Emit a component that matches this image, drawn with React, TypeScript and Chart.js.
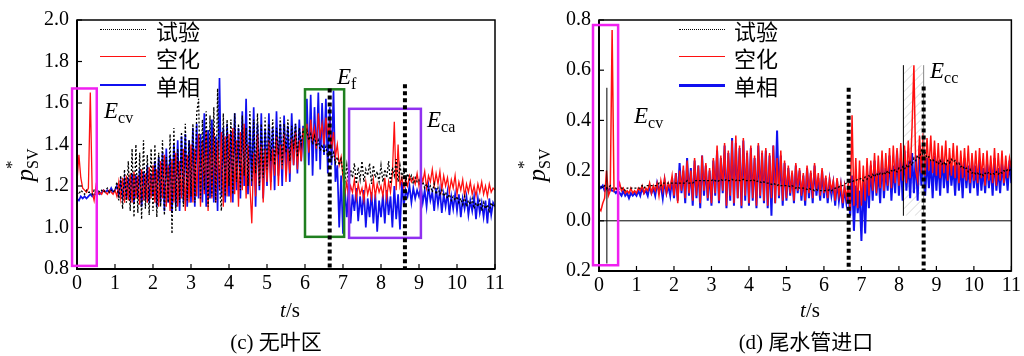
import React, { useEffect, useRef } from "react";
import { Chart, registerables } from "chart.js";
Chart.register(...registerables);

// ---------- data (sample step 0.05 s, t = 0 … 11 s) ----------
const STEP = 0.05;
const N = 221;
const TIMES = Array.from({ length: N }, (_, i) => Math.round(i * STEP * 100) / 100);

const X_TICKS = [0, 1, 2, 3, 4, 5, 6, 7, 8, 9, 10, 11];
const LEFT_Y_TICKS = [0.8, 1.0, 1.2, 1.4, 1.6, 1.8, 2.0];
const RIGHT_Y_TICKS = [-0.2, 0.0, 0.2, 0.4, 0.6, 0.8];
const LEGEND_LABELS = ["试验", "空化", "单相"];

// (c) 无叶区
const L_EXP = [
  1.17,1.16,1.18,1.17,1.16,1.18,1.17,1.17,1.16,1.18, 1.17,1.18,1.17,1.18,1.17,1.18,1.19,1.17,1.18,1.17,
  1.18,1.22,1.13,1.25,1.09,1.28,1.12,1.32,1.08,1.38, 1.05,1.40,1.07,1.36,1.04,1.42,1.09,1.35,1.06,1.38,
  1.08,1.40,1.05,1.36,1.10,1.42,1.06,1.34,1.12,1.45, 0.97,1.48,1.08,1.38,1.12,1.46,1.10,1.50,1.13,1.42,
  1.15,1.50,1.12,1.55,1.62,1.14,1.52,1.18,1.56,1.10, 1.54,1.15,1.58,1.12,1.67,1.20,1.08,1.55,1.15,1.52,
  1.20,1.52,1.16,1.55,1.22,1.50,1.18,1.54,1.25,1.48, 1.20,1.56,1.22,1.52,1.26,1.55,1.20,1.50,1.24,1.53,
  1.28,1.50,1.32,1.52,1.30,1.48,1.35,1.53,1.30,1.50, 1.36,1.52,1.32,1.49,1.38,1.50,1.34,1.48,1.40,1.47,
  1.44,1.47,1.42,1.45,1.40,1.44,1.39,1.42,1.37,1.40, 1.36,1.39,1.34,1.37,1.33,1.36,1.31,1.34,1.30,1.33,
  1.26,1.22,1.30,1.20,1.28,1.24,1.31,1.21,1.29,1.23, 1.32,1.22,1.28,1.25,1.31,1.21,1.30,1.24,1.27,1.22,
  1.30,1.22,1.28,1.24,1.32,1.21,1.29,1.25,1.33,1.22, 1.30,1.24,1.28,1.22,1.26,1.23,1.25,1.21,1.24,1.22,
  1.23,1.20,1.22,1.19,1.21,1.18,1.20,1.17,1.21,1.16, 1.19,1.16,1.18,1.15,1.17,1.14,1.16,1.13,1.15,1.13,
  1.15,1.12,1.14,1.11,1.15,1.10,1.13,1.11,1.14,1.09, 1.12,1.10,1.13,1.08,1.12,1.09,1.11,1.08,1.12,1.10,
  1.11,
];
const L_CAV = [
  1.22,1.35,1.24,1.19,1.18,1.17,1.19,1.65,1.17,1.13, 1.20,1.16,1.17,1.16,1.18,1.17,1.16,1.18,1.17,1.16,
  1.18,1.15,1.22,1.14,1.24,1.12,1.25,1.13,1.26,1.12, 1.27,1.14,1.25,1.11,1.28,1.13,1.26,1.12,1.29,1.14,
  1.30,1.12,1.28,1.10,1.32,1.14,1.35,1.10,1.30,1.08, 1.33,1.12,1.36,1.10,1.32,1.14,1.38,1.08,1.35,1.12,
  1.40,1.12,1.38,1.15,1.45,1.10,1.42,1.16,1.46,1.08, 1.44,1.14,1.48,1.12,1.42,1.18,1.46,1.10,1.44,1.15,
  1.45,1.12,1.48,1.16,1.42,1.10,1.46,1.18,1.50,1.14, 1.40,1.20,1.02,1.36,1.15,1.45,1.20,1.40,1.12,1.38,
  1.22,1.42,1.18,1.38,1.25,1.44,1.20,1.40,1.28,1.45, 1.22,1.38,1.26,1.43,1.30,1.46,1.28,1.42,1.32,1.48,
  1.40,1.50,1.36,1.52,1.42,1.48,1.38,1.55,1.44,1.50, 1.40,1.53,1.45,1.50,1.38,1.46,1.34,1.40,1.30,1.34,
  1.24,1.16,1.22,1.14,1.20,1.17,1.23,1.14,1.21,1.16, 1.19,1.13,1.22,1.16,1.20,1.14,1.23,1.15,1.21,1.17,
  1.20,1.15,1.24,1.14,1.22,1.17,1.26,1.51,1.18,1.40, 1.20,1.24,1.19,1.23,1.20,1.25,1.22,1.24,1.21,1.26,
  1.20,1.26,1.22,1.27,1.19,1.25,1.22,1.28,1.20,1.26, 1.21,1.27,1.18,1.25,1.20,1.24,1.17,1.23,1.19,1.25,
  1.16,1.22,1.18,1.23,1.15,1.21,1.17,1.22,1.16,1.20, 1.15,1.21,1.17,1.22,1.16,1.20,1.15,1.21,1.17,1.19,
  1.18,
];
const L_SP = [
  1.14,1.13,1.15,1.14,1.15,1.14,1.15,1.16,1.15,1.16, 1.16,1.17,1.16,1.17,1.18,1.17,1.18,1.17,1.19,1.17,
  1.18,1.20,1.16,1.22,1.15,1.23,1.14,1.24,1.13,1.26, 1.12,1.25,1.14,1.28,1.10,1.27,1.13,1.30,1.12,1.26,
  1.15,1.32,1.10,1.34,1.12,1.36,1.08,1.38,1.12,1.35, 1.07,1.40,1.10,1.42,1.08,1.44,1.12,1.45,1.10,1.42,
  1.12,1.48,1.10,1.50,1.14,1.45,1.12,1.55,1.10,1.47, 1.14,1.52,1.12,1.44,1.08,1.72,1.15,1.48,1.12,1.50,
  1.15,1.46,1.12,1.55,1.18,1.48,1.14,1.56,1.20,1.62, 1.16,1.48,1.20,1.58,1.10,1.50,1.18,1.55,1.14,1.47,
  1.20,1.55,1.22,1.48,1.18,1.56,1.25,1.50,1.20,1.54, 1.28,1.49,1.22,1.55,1.30,1.50,1.26,1.52,1.32,1.49,
  1.28,1.62,1.30,1.64,1.25,1.58,1.32,1.65,1.28,1.60, 1.35,1.62,1.26,1.58,1.30,1.66,1.22,1.30,1.00,1.25,
  0.97,1.18,1.05,1.20,1.02,1.16,1.08,1.19,1.03,1.15, 1.06,1.18,1.00,1.14,1.05,1.17,1.02,1.16,0.98,1.13,
  1.05,1.16,1.02,1.18,1.06,1.15,1.00,1.20,1.04,1.16, 0.99,1.22,1.10,1.18,1.15,1.20,1.12,1.19,1.14,1.18,
  1.15,1.20,1.12,1.18,1.10,1.20,1.13,1.17,1.08,1.19, 1.11,1.18,1.07,1.16,1.10,1.17,1.06,1.15,1.09,1.16,
  1.08,1.16,1.05,1.14,1.09,1.15,1.06,1.13,1.08,1.15, 1.04,1.14,1.07,1.12,1.05,1.13,1.02,1.14,1.06,1.12,
  1.10,
];

// (d) 尾水管进口
const R_EXP = [
  0.13,0.14,0.13,0.14,0.13,0.13,0.14,0.13,0.13,0.13, 0.12,0.13,0.13,0.13,0.12,0.13,0.13,0.13,0.13,0.13,
  0.13,0.13,0.13,0.14,0.13,0.14,0.14,0.14,0.14,0.14, 0.14,0.14,0.15,0.14,0.15,0.15,0.15,0.15,0.15,0.15,
  0.15,0.15,0.15,0.15,0.15,0.15,0.15,0.16,0.15,0.15, 0.15,0.16,0.16,0.16,0.16,0.16,0.16,0.16,0.16,0.16,
  0.16,0.165,0.16,0.155,0.16,0.165,0.16,0.16,0.165,0.16, 0.16,0.165,0.16,0.16,0.165,0.16,0.16,0.165,0.16,0.16,
  0.16,0.16,0.165,0.16,0.155,0.16,0.155,0.15,0.155,0.15, 0.15,0.15,0.145,0.15,0.145,0.14,0.145,0.14,0.14,0.14,
  0.14,0.14,0.135,0.14,0.135,0.13,0.135,0.13,0.13,0.13, 0.13,0.125,0.13,0.125,0.125,0.12,0.125,0.12,0.12,0.12,
  0.12,0.12,0.12,0.125,0.12,0.125,0.13,0.13,0.135,0.14, 0.14,0.145,0.15,0.15,0.155,0.155,0.16,0.16,0.165,0.165,
  0.17,0.16,0.175,0.165,0.18,0.17,0.185,0.175,0.19,0.18, 0.19,0.185,0.195,0.185,0.20,0.19,0.20,0.195,0.205,0.195,
  0.21,0.20,0.215,0.205,0.22,0.21,0.235,0.22,0.25,0.24, 0.26,0.25,0.28,0.26,0.27,0.25,0.255,0.24,0.245,0.235,
  0.235,0.225,0.24,0.225,0.235,0.22,0.24,0.23,0.245,0.235, 0.24,0.225,0.23,0.215,0.22,0.205,0.21,0.195,0.205,0.19,
  0.195,0.185,0.19,0.18,0.19,0.18,0.19,0.185,0.195,0.185, 0.19,0.185,0.195,0.185,0.195,0.19,0.20,0.195,0.205,0.20,
  0.21,
];
const R_CAV = [
  0.05,0.04,0.07,0.09,0.20,0.10,0.12,0.76,0.12,0.13, 0.12,0.15,0.12,0.13,0.11,0.12,0.11,0.13,0.11,0.12,
  0.11,0.13,0.12,0.14,0.11,0.13,0.12,0.15,0.11,0.14, 0.12,0.15,0.10,0.16,0.12,0.17,0.11,0.15,0.13,0.18,
  0.10,0.19,0.07,0.20,0.12,0.22,0.09,0.24,0.11,0.20, 0.08,0.25,0.10,0.22,0.07,0.26,0.12,0.23,0.09,0.21,
  0.07,0.25,0.11,0.30,0.08,0.26,0.12,0.31,0.06,0.28, 0.10,0.32,0.07,0.34,0.09,0.30,0.06,0.33,0.10,0.28,
  0.07,0.30,0.09,0.26,0.06,0.31,0.10,0.28,0.08,0.29, 0.06,0.27,0.09,0.30,0.07,0.25,0.10,0.28,0.08,0.24,
  0.09,0.22,0.11,0.20,0.08,0.23,0.12,0.21,0.10,0.19, 0.08,0.22,0.11,0.20,0.09,0.23,0.12,0.19,0.10,0.21,
  0.11,0.18,0.09,0.17,0.12,0.16,0.08,0.17,0.10,0.15, 0.07,0.14,0.09,0.15,0.04,0.42,0.06,0.25,0.05,0.24,
  0.06,0.22,0.08,0.25,0.10,0.24,0.12,0.27,0.11,0.26, 0.13,0.28,0.12,0.27,0.14,0.29,0.13,0.30,0.15,0.29,
  0.14,0.31,0.16,0.30,0.15,0.32,0.17,0.37,0.62,0.20, 0.16,0.34,0.19,0.35,0.18,0.33,0.20,0.34,0.19,0.32,
  0.18,0.31,0.17,0.30,0.19,0.32,0.16,0.29,0.18,0.31, 0.17,0.30,0.15,0.28,0.17,0.29,0.16,0.30,0.15,0.27,
  0.16,0.28,0.15,0.29,0.17,0.27,0.14,0.28,0.16,0.26, 0.15,0.29,0.14,0.27,0.16,0.28,0.15,0.26,0.17,0.25,
  0.21,
];
const R_SP = [
  0.14,0.13,0.14,0.12,0.13,0.12,0.13,0.12,0.12,0.11, 0.12,0.11,0.10,0.12,0.10,0.11,0.09,0.11,0.10,0.11,
  0.10,0.12,0.10,0.13,0.11,0.12,0.10,0.14,0.11,0.13, 0.10,0.15,0.12,0.14,0.09,0.16,0.11,0.14,0.10,0.17,
  0.09,0.19,0.08,0.23,0.11,0.20,0.07,0.25,0.10,0.21, 0.06,0.24,0.09,0.22,0.05,0.26,0.10,0.22,0.08,0.20,
  0.06,0.24,0.10,0.28,0.07,0.25,0.11,0.30,0.05,0.27, 0.08,0.33,0.06,0.31,0.09,0.29,0.05,0.32,0.08,0.27,
  0.06,0.29,0.08,0.25,0.05,0.30,0.09,0.27,0.07,0.28, 0.05,0.26,0.02,0.30,0.07,0.36,0.09,0.26,0.06,0.23,
  0.08,0.21,0.10,0.19,0.07,0.22,0.11,0.20,0.08,0.18, 0.06,0.21,0.09,0.19,0.07,0.22,0.10,0.17,0.08,0.20,
  0.09,0.17,0.07,0.16,0.10,0.15,0.06,0.16,0.08,0.14, 0.05,0.13,0.07,0.12,0.02,0.18,-0.04,0.14,0.03,0.12,
  -0.08,0.16,-0.05,0.20,0.05,0.22,0.08,0.24,0.10,0.20, 0.07,0.25,0.09,0.21,0.12,0.26,0.08,0.22,0.11,0.28,
  0.10,0.25,0.08,0.28,0.12,0.24,0.09,0.27,0.11,0.26, 0.08,0.30,0.14,0.27,0.10,0.25,0.13,0.24,0.09,0.26,
  0.12,0.24,0.10,0.26,0.13,0.23,0.11,0.25,0.14,0.22, 0.10,0.24,0.12,0.23,0.09,0.25,0.13,0.22,0.11,0.24,
  0.13,0.22,0.10,0.24,0.12,0.21,0.11,0.23,0.13,0.22, 0.10,0.25,0.12,0.21,0.11,0.23,0.14,0.22,0.12,0.24,
  0.15,
];

// annotation boxes / markers (data units)
const LEFT_BOXES = [
  { x0: -0.13, x1: 0.52, y0: 0.815, y1: 1.67, color: "#f020f0" },
  { x0: 6.0, x1: 7.03, y0: 0.955, y1: 1.666, color: "#1f7f1f" },
  { x0: 7.16, x1: 9.05, y0: 0.95, y1: 1.572, color: "#9030f0" },
];
const LEFT_DOTTED = [
  { t: 6.65, top: 1.67 },
  { t: 8.63, top: 1.69 },
];
const RIGHT_BOXES = [{ x0: -0.16, x1: 0.51, y0: -0.177, y1: 0.78, color: "#f020f0" }];
const RIGHT_DOTTED = [
  { t: 6.66, top: 0.53 },
  { t: 8.66, top: 0.535 },
];
const RIGHT_THIN = [
  { t: 0.21, y0: -0.17, y1: 0.53, color: "#000" },
  { t: 8.12, y0: 0.02, y1: 0.62, color: "#000" },
  { t: 8.66, y0: 0.02, y1: 0.62, color: "#888" },
];
const RIGHT_HATCH = { x0: 8.12, x1: 8.66, y0: 0.02, y1: 0.62 };

const SERIF = "'Liberation Serif', 'Times New Roman', serif";
const CJK = "'Noto Sans CJK SC', sans-serif";

type PanelSpec = {
  exp: number[];
  cav: number[];
  sp: number[];
  yMin: number;
  yMax: number;
  yWidth: number;
  padRight: number;
  xHeight: number;
  expWidth: number;
  cavWidth: number;
  spWidth: number;
  boxes: { x0: number; x1: number; y0: number; y1: number; color: string }[];
  dotted: { t: number; top: number }[];
  thin?: { t: number; y0: number; y1: number; color: string }[];
  hatch?: { x0: number; x1: number; y0: number; y1: number };
  zeroLine?: boolean;
  absLabels?: boolean;
};

function makeDecor(spec: PanelSpec) {
  return {
    id: "decor",
    beforeDatasetsDraw(chart: any) {
      const { ctx, chartArea: a, scales } = chart;
      const x = scales.x, y = scales.y;
      ctx.save();
      if (spec.hatch) {
        const h = spec.hatch;
        const px0 = x.getPixelForValue(h.x0), px1 = x.getPixelForValue(h.x1);
        const py0 = y.getPixelForValue(h.y1), py1 = y.getPixelForValue(h.y0);
        ctx.save();
        ctx.beginPath();
        ctx.rect(px0, py0, px1 - px0, py1 - py0);
        ctx.clip();
        ctx.strokeStyle = "rgba(170,170,170,0.6)";
        ctx.lineWidth = 0.8;
        const hh = py1 - py0;
        for (let k = -hh; k < px1 - px0 + hh; k += 9) {
          ctx.beginPath();
          ctx.moveTo(px0 + k, py1);
          ctx.lineTo(px0 + k + hh, py0);
          ctx.stroke();
        }
        ctx.restore();
      }
      if (spec.zeroLine) {
        const py = y.getPixelForValue(0);
        ctx.strokeStyle = "#000";
        ctx.lineWidth = 1;
        ctx.beginPath();
        ctx.moveTo(a.left, py);
        ctx.lineTo(a.right, py);
        ctx.stroke();
      }
      ctx.restore();
    },
    afterDatasetsDraw(chart: any) {
      const { ctx, chartArea: a, scales } = chart;
      const x = scales.x, y = scales.y;
      ctx.save();
      (spec.thin || []).forEach((l) => {
        ctx.strokeStyle = l.color;
        ctx.lineWidth = 1;
        const px = x.getPixelForValue(l.t);
        ctx.beginPath();
        ctx.moveTo(px, y.getPixelForValue(l.y0));
        ctx.lineTo(px, y.getPixelForValue(l.y1));
        ctx.stroke();
      });
      ctx.strokeStyle = "#000";
      ctx.lineWidth = 1.5;
      ctx.strokeRect(a.left, a.top, a.right - a.left, a.bottom - a.top);
      ctx.lineWidth = 2;
      ctx.beginPath();
      ctx.moveTo(a.left, a.top);
      ctx.lineTo(a.left, a.bottom);
      ctx.lineTo(a.right, a.bottom);
      ctx.stroke();
      ctx.lineWidth = 1.2;
      x.ticks.forEach((tk: any) => {
        const px = x.getPixelForValue(tk.value);
        ctx.beginPath();
        ctx.moveTo(px, a.bottom);
        ctx.lineTo(px, a.bottom - 5);
        ctx.stroke();
      });
      y.ticks.forEach((tk: any) => {
        const py = y.getPixelForValue(tk.value);
        ctx.beginPath();
        ctx.moveTo(a.left, py);
        ctx.lineTo(a.left + 5, py);
        ctx.stroke();
      });
      spec.boxes.forEach((b) => {
        const px0 = x.getPixelForValue(b.x0), px1 = x.getPixelForValue(b.x1);
        const py0 = y.getPixelForValue(b.y1), py1 = y.getPixelForValue(b.y0);
        ctx.strokeStyle = b.color;
        ctx.lineWidth = 2.5;
        ctx.strokeRect(px0, py0, px1 - px0, py1 - py0);
      });
      ctx.strokeStyle = "#000";
      ctx.lineWidth = 4;
      ctx.setLineDash([4, 3]);
      spec.dotted.forEach((d) => {
        const px = x.getPixelForValue(d.t);
        ctx.beginPath();
        ctx.moveTo(px, y.getPixelForValue(d.top));
        ctx.lineTo(px, a.bottom);
        ctx.stroke();
      });
      ctx.setLineDash([]);
      ctx.restore();
    },
  };
}

function Panel({ spec }: { spec: PanelSpec }) {
  const ref = useRef<HTMLCanvasElement>(null);
  useEffect(() => {
    if (!ref.current) return;
    const pts = (arr: number[]) => arr.map((v, i) => ({ x: TIMES[i], y: v }));
    const tickFont = { family: SERIF, size: 20 };
    const chart = new Chart(ref.current, {
      type: "line",
      data: {
        datasets: [
          {
            label: LEGEND_LABELS[0],
            data: pts(spec.exp),
            borderColor: "#000",
            borderWidth: spec.expWidth,
            borderDash: [2, 2],
            pointRadius: 0,
            tension: 0,
          },
          {
            label: LEGEND_LABELS[1],
            data: pts(spec.cav),
            borderColor: "#ff1010",
            borderWidth: spec.cavWidth,
            pointRadius: 0,
            tension: 0,
          },
          {
            label: LEGEND_LABELS[2],
            data: pts(spec.sp),
            borderColor: "#1010f0",
            borderWidth: spec.spWidth,
            pointRadius: 0,
            tension: 0,
          },
        ],
      },
      options: {
        responsive: false,
        animation: false,
        layout: { padding: { left: 0, right: spec.padRight, top: 14, bottom: 0 } },
        plugins: { legend: { display: false }, tooltip: { enabled: false } },
        scales: {
          x: {
            type: "linear",
            min: 0,
            max: 11,
            afterBuildTicks: (s: any) => {
              s.ticks = X_TICKS.map((v) => ({ value: v }));
            },
            ticks: { font: tickFont, color: "#000", padding: 3, maxRotation: 0, autoSkip: false },
            grid: { display: false, drawTicks: false },
            border: { display: false },
            afterFit: (s: any) => {
              s.height = spec.xHeight;
            },
          },
          y: {
            type: "linear",
            min: spec.yMin,
            max: spec.yMax,
            afterBuildTicks: (s: any) => {
              s.ticks = (spec.absLabels ? RIGHT_Y_TICKS : LEFT_Y_TICKS).map((v) => ({ value: v }));
            },
            ticks: {
              font: tickFont,
              color: "#000",
              padding: 8,
              callback: (v: any) => (spec.absLabels ? Math.abs(Number(v)) : Number(v)).toFixed(1),
            },
            grid: { display: false, drawTicks: false },
            border: { display: false },
            afterFit: (s: any) => {
              s.width = spec.yWidth;
            },
          },
        },
      },
      plugins: [makeDecor(spec)],
    } as any);
    return () => chart.destroy();
  }, [spec]);
  return <canvas ref={ref} width={512} height={356} style={{ display: "block" }} />;
}

const abs = (style: React.CSSProperties): React.CSSProperties => ({ position: "absolute", ...style });

function Legend({ lineLeft, textLeft, spWidth }: { lineLeft: number; textLeft: number; spWidth: number }) {
  const rows = [30, 57, 85];
  const lineStyles: React.CSSProperties[] = [
    { borderTop: "1.5px dotted #000" },
    { borderTop: "1px solid #ff1010" },
    { borderTop: `${spWidth}px solid #1010f0` },
  ];
  return (
    <>
      {LEGEND_LABELS.map((lab, i) => (
        <React.Fragment key={lab}>
          <div style={abs({ left: lineLeft, top: rows[i] - 1, width: 46, height: 0, ...lineStyles[i] })} />
          <div
            style={abs({
              left: textLeft,
              top: rows[i] - 14,
              height: 28,
              lineHeight: "28px",
              fontFamily: CJK,
              fontSize: 22,
              color: "#000",
              whiteSpace: "nowrap",
            })}
          >
            {lab}
          </div>
        </React.Fragment>
      ))}
    </>
  );
}

function ELabel({ left, top, sub }: { left: number; top: number; sub: string }) {
  return (
    <div style={abs({ left, top, fontFamily: SERIF, fontSize: 23, lineHeight: 1, whiteSpace: "nowrap" })}>
      <i>E</i>
      <span style={{ fontSize: 16, position: "relative", top: 5 }}>{sub}</span>
    </div>
  );
}

function YTitle({ cx, cy }: { cx: number; cy: number }) {
  return (
    <div
      style={abs({
        left: cx - 30,
        top: cy - 14,
        width: 60,
        height: 28,
        transform: "rotate(-90deg)",
        transformOrigin: "50% 50%",
        fontFamily: SERIF,
        fontSize: 25,
        lineHeight: "28px",
        textAlign: "center",
        whiteSpace: "nowrap",
      })}
    >
      <i>p</i>
      <span style={{ position: "relative", display: "inline-block" }}>
        <span style={{ position: "absolute", left: 0, top: -13, fontSize: 17 }}>*</span>
        <span style={{ fontSize: 16, position: "relative", top: 5 }}>SV</span>
      </span>
    </div>
  );
}

function CenterText({ cx, cy, children, size = 21 }: { cx: number; cy: number; children: React.ReactNode; size?: number }) {
  return (
    <div
      style={abs({
        left: cx - 150,
        width: 300,
        top: cy - 13,
        height: 26,
        lineHeight: "26px",
        textAlign: "center",
        fontFamily: SERIF,
        fontSize: size,
        whiteSpace: "nowrap",
      })}
    >
      {children}
    </div>
  );
}

const LEFT_SPEC: PanelSpec = {
  exp: L_EXP,
  cav: L_CAV,
  sp: L_SP,
  yMin: 0.8,
  yMax: 2.0,
  yWidth: 77,
  padRight: 17,
  xHeight: 87,
  expWidth: 1.3,
  cavWidth: 1.3,
  spWidth: 1.7,
  boxes: LEFT_BOXES,
  dotted: LEFT_DOTTED,
};
const RIGHT_SPEC: PanelSpec = {
  exp: R_EXP,
  cav: R_CAV,
  sp: R_SP,
  yMin: -0.2,
  yMax: 0.8,
  yWidth: 87,
  padRight: 12,
  xHeight: 85,
  expWidth: 1.3,
  cavWidth: 1.5,
  spWidth: 2,
  boxes: RIGHT_BOXES,
  dotted: RIGHT_DOTTED,
  thin: RIGHT_THIN,
  hatch: RIGHT_HATCH,
  zeroLine: true,
  absLabels: true,
};

export default function App() {
  return (
    <div style={abs({ left: 0, top: 0, width: 1024, height: 356, background: "#fff", overflow: "hidden", color: "#000" })}>
      <div style={abs({ left: 0, top: 0 })}>
        <Panel spec={LEFT_SPEC} />
      </div>
      <div style={abs({ left: 512, top: 0 })}>
        <Panel spec={RIGHT_SPEC} />
      </div>

      <Legend lineLeft={100} textLeft={156} spWidth={2} />
      <Legend lineLeft={679} textLeft={734} spWidth={3} />

      <ELabel left={104} top={99} sub="cv" />
      <ELabel left={337} top={65} sub="f" />
      <ELabel left={427} top={108} sub="ca" />
      <ELabel left={634} top={104} sub="cv" />
      <ELabel left={930} top={59} sub="cc" />

      <YTitle cx={25} cy={165} />
      <YTitle cx={537} cy={165} />

      <CenterText cx={290} cy={310}>
        <i>t</i>/s
      </CenterText>
      <CenterText cx={810} cy={310}>
        <i>t</i>/s
      </CenterText>
      <CenterText cx={276} cy={340}>
        (c) <span style={{ fontFamily: CJK }}>无叶区</span>
      </CenterText>
      <CenterText cx={806} cy={340}>
        (d) <span style={{ fontFamily: CJK }}>尾水管进口</span>
      </CenterText>
    </div>
  );
}
